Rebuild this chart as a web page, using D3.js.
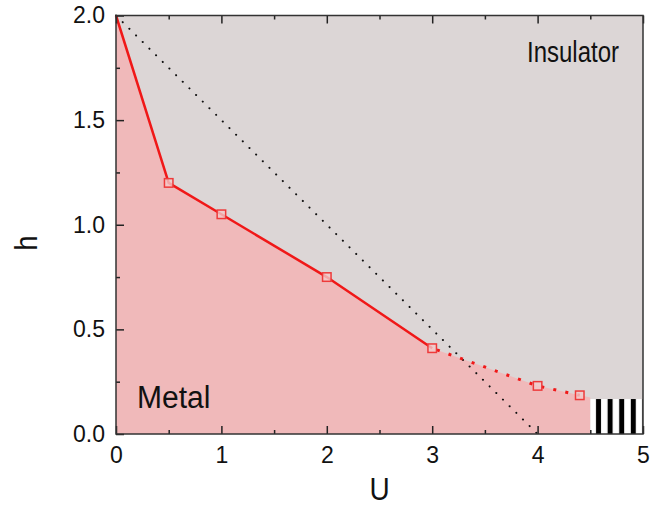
<!DOCTYPE html>
<html>
<head>
<meta charset="utf-8">
<script src="https://cdn.jsdelivr.net/npm/d3@7"></script>
<style>
  body { margin: 0; background: #fff; }
  svg { display: block; }
  text { font-family: Arial, "Liberation Sans", sans-serif; fill: #111; }
</style>
</head>
<body>
<script>
// phase boundary, solid part
const solidU = [0, 0.5, 1, 2, 3]
const solidH = [2.0, 1.2, 1.05, 0.75, 0.41]
// phase boundary, dashed extension
const dashU = [3, 4, 4.4]
const dashH = [0.41, 0.23, 0.185]
// open-square markers
const markU = [0.5, 1, 2, 3, 4, 4.4]
const markH = [1.2, 1.05, 0.75, 0.41, 0.23, 0.185]
// dotted guide line h = 2 - U/2
const guideU = [0, 4]
const guideH = [2, 0]
// end of the metal region and the striped box
const metalEndU = 4.5
const metalEndH = 0.175
const stripeU = [4.5, 5]
const stripeH = 0.167

const xMajor = [0, 1, 2, 3, 4, 5]
const xMinor = [0.5, 1.5, 2.5, 3.5, 4.5]
const yMajor = [0, 0.5, 1.0, 1.5, 2.0]
const yMinor = [0.25, 0.75, 1.25, 1.75]

const width = 663
const height = 508
const margin = {top: 15.5, right: 20, bottom: 74, left: 116}

const svg = d3.select('body').append('svg')
  .attr('width', width)
  .attr('height', height)
  .attr('viewBox', `0 0 ${width} ${height}`)

const x = d3.scaleLinear().domain([0, 5]).range([margin.left, width - margin.right])
const y = d3.scaleLinear().domain([0, 2]).range([height - margin.bottom, margin.top])

svg.append('defs').html(`
  <pattern id="stripe" patternUnits="userSpaceOnUse" x="${x(stripeU[0])}" y="0" width="11.6" height="10">
    <rect width="11.6" height="10" fill="#fff"/>
    <rect x="5.7" width="5" height="10" fill="#000"/>
  </pattern>
`)

// insulator background
svg.append('rect')
  .attr('x', x(0)).attr('y', y(2))
  .attr('width', x(5) - x(0)).attr('height', y(0) - y(2))
  .attr('fill', '#dcd6d6')

// metal region
const boundary = solidU.map((u, i) => [u, solidH[i]])
  .concat(dashU.slice(1).map((u, i) => [u, dashH[i + 1]]))
const metal = [[0, 0]].concat(boundary, [[metalEndU, metalEndH], [metalEndU, 0]])

svg.append('path')
  .attr('d', d3.line().x(d => x(d[0])).y(d => y(d[1]))(metal) + 'Z')
  .attr('fill', '#f0b9ba')

// striped box
svg.append('rect')
  .attr('x', x(stripeU[0])).attr('y', y(stripeH))
  .attr('width', x(stripeU[1]) - x(stripeU[0])).attr('height', y(0) - y(stripeH))
  .attr('fill', 'url(#stripe)')

const line = d3.line().x(d => x(d[0])).y(d => y(d[1]))

svg.append('path')
  .attr('d', line(guideU.map((u, i) => [u, guideH[i]])))
  .attr('fill', 'none')
  .attr('stroke', '#111')
  .attr('stroke-width', 2)
  .attr('stroke-linecap', 'round')
  .attr('stroke-dasharray', '0.1,9.3')

svg.append('path')
  .attr('d', line(dashU.map((u, i) => [u, dashH[i]])))
  .attr('fill', 'none')
  .attr('stroke', '#f01818')
  .attr('stroke-width', 3)
  .attr('stroke-dasharray', '3,9.3')
  .attr('stroke-dashoffset', -5)

svg.append('path')
  .attr('d', line(solidU.map((u, i) => [u, solidH[i]])))
  .attr('fill', 'none')
  .attr('stroke', '#f01818')
  .attr('stroke-width', 2.5)

const ms = 8.5
svg.append('g')
  .selectAll('rect')
  .data(markU.map((u, i) => [u, markH[i]]))
  .join('rect')
    .attr('x', d => x(d[0]) - ms / 2)
    .attr('y', d => y(d[1]) - ms / 2)
    .attr('width', ms)
    .attr('height', ms)
    .attr('fill', '#f3c9c9')
    .attr('fill-opacity', 0.8)
    .attr('stroke', '#ee3a3a')
    .attr('stroke-width', 1.5)

// axes, ticks point inward
const tickStyle = g => g
  .call(g => g.select('.domain').remove())
  .call(g => g.selectAll('.tick line').attr('stroke', '#222').attr('stroke-width', 1.5))
  .call(g => g.selectAll('.tick text').attr('font-size', 23).attr('fill', '#111')
    .attr('font-family', 'Arial, "Liberation Sans", sans-serif'))

const bottom = y(0)
svg.append('g').attr('transform', `translate(0,${bottom})`)
  .call(d3.axisBottom(x).tickValues(xMajor).tickFormat(d3.format('d')).tickSize(-8).tickPadding(13))
  .call(tickStyle)
svg.append('g').attr('transform', `translate(0,${bottom})`)
  .call(d3.axisBottom(x).tickValues(xMinor).tickFormat('').tickSize(-4))
  .call(tickStyle)

svg.append('g').attr('transform', `translate(0,${y(2)})`)
  .call(d3.axisTop(x).tickValues(xMajor).tickFormat('').tickSize(-8))
  .call(tickStyle)
svg.append('g').attr('transform', `translate(0,${y(2)})`)
  .call(d3.axisTop(x).tickValues(xMinor).tickFormat('').tickSize(-4))
  .call(tickStyle)

svg.append('g').attr('transform', `translate(${x(0)},0)`)
  .call(d3.axisLeft(y).tickValues(yMajor).tickFormat(d3.format('.1f')).tickSize(-8).tickPadding(11))
  .call(tickStyle)
svg.append('g').attr('transform', `translate(${x(0)},0)`)
  .call(d3.axisLeft(y).tickValues(yMinor).tickFormat('').tickSize(-4))
  .call(tickStyle)

// frame
svg.append('rect')
  .attr('x', x(0)).attr('y', y(2))
  .attr('width', x(5) - x(0)).attr('height', y(0) - y(2))
  .attr('fill', 'none')
  .attr('stroke', '#333')
  .attr('stroke-width', 1.5)

// labels
svg.append('text')
  .attr('transform', `translate(${(x(0) + x(5)) / 2},500) scale(1,1.15)`)
  .attr('text-anchor', 'middle')
  .attr('font-size', 28)
  .text('U')

svg.append('text')
  .attr('transform', `translate(37,243) rotate(-90) scale(1,1.17)`)
  .attr('text-anchor', 'middle')
  .attr('font-size', 27)
  .text('h')

svg.append('text')
  .attr('transform', `translate(527,62) scale(1,1.25)`)
  .attr('font-size', 24)
  .text('Insulator')

svg.append('text')
  .attr('transform', `translate(137,408) scale(1,1.07)`)
  .attr('font-size', 30)
  .text('Metal')
</script>
</body>
</html>
